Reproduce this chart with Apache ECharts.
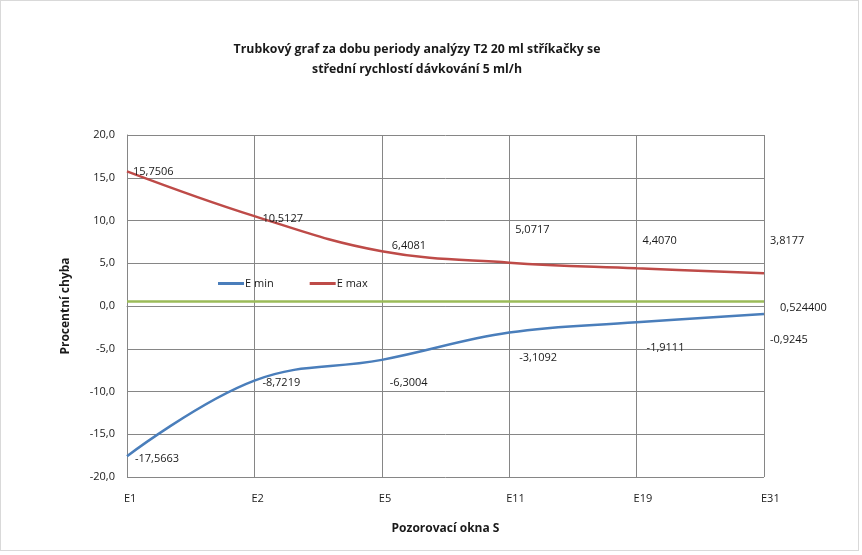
<!DOCTYPE html>
<html><head><meta charset="utf-8">
<script src="https://cdn.jsdelivr.net/npm/echarts@6/dist/echarts.min.js"></script>
<style>html,body{margin:0;padding:0;background:#fff}#c{position:absolute;left:0;top:0;width:862px;height:555px}#b{position:absolute;left:0;top:0;width:857px;height:549px;border:1px solid #d9d9d9;pointer-events:none}</style>
</head><body><div id="c"></div><div id="b"></div>
<script>
const categories = ['E1','E2','E5','E11','E19','E31'];
const eMin = [-17.5663, -8.7219, -6.3004, -3.1092, -1.9111, -0.9245];
const eMax = [15.7506, 10.5127, 6.4081, 5.0717, 4.4070, 3.8177];
const centerValue = 0.5244;
const yTicks = [-20, -15, -10, -5, 0, 5, 10, 15, 20];

const fmt = (v, d) => v.toFixed(d).replace('.', ',');
const minOffsets = [[4,3],[4,2],[4,23],[6,25],[6,26],[2,26]];
const maxOffsets = [[2,1],[4,3],[6,-5],[2,-33],[2,-27],[2,-32]];
const font = '"Open Sans", "Liberation Sans", sans-serif';
const lbl = {color:'#1a1a1a', fontSize:11, fontFamily:font, position:'right', align:'left', verticalAlign:'middle', distance:4};

const chart = echarts.init(document.getElementById('c'));
chart.setOption({
  animation:false,
  title:{text:'Trubkový graf za dobu periody analýzy T2 20 ml stříkačky se\nstřední rychlostí dávkování 5 ml/h', left:412, textAlign:'center', top:34,
    textStyle:{fontSize:12.3, fontWeight:'bold', fontFamily:font, color:'#1a1a1a', lineHeight:20}},
  legend:{left:213, top:273, itemWidth:26, itemHeight:3, itemGap:36, icon:'rect',
    textStyle:{fontSize:11, fontFamily:font, color:'#1a1a1a', padding:[0,0,0,-4]}, data:['E min','E max']},
  grid:{left:127, right:98, top:135, bottom:78},
  xAxis:{type:'category', data:categories, boundaryGap:false,
    name:'Pozorovací okna S', nameLocation:'middle', nameGap:46,
    nameTextStyle:{fontSize:12, fontWeight:'bold', fontFamily:font, color:'#1a1a1a'},
    axisLine:{lineStyle:{color:'#868686'}}, axisTick:{show:false},
    axisLabel:{fontSize:11, fontFamily:font, color:'#1a1a1a', align:'left', margin:16, padding:[0,0,0,-3]},
    splitLine:{show:true, lineStyle:{color:'#868686'}}},
  yAxis:{type:'value', min:yTicks[0], max:yTicks[yTicks.length-1], interval:5,
    name:'Procentní chyba', nameLocation:'middle', nameGap:55, nameRotate:90,
    nameTextStyle:{fontSize:12, fontWeight:'bold', fontFamily:font, color:'#1a1a1a'},
    axisLine:{show:true, lineStyle:{color:'#868686'}}, axisTick:{show:false},
    axisLabel:{fontSize:11, fontFamily:font, color:'#1a1a1a', margin:12, formatter:v=>fmt(v,1)},
    splitLine:{show:true, lineStyle:{color:'#868686'}}},
  series:[
    {name:'E min', type:'line', smooth:0.4, symbol:'circle', symbolSize:0.01, showSymbol:true, color:'#4A7EBB', lineStyle:{width:2.5, color:'#4A7EBB'},
      data:eMin.map((v,i)=>({value:v, label:{show:true, ...lbl, offset:minOffsets[i], formatter:fmt(v,4)}})),
      markLine:{silent:true, symbol:'none', data:[{yAxis:centerValue}],
        lineStyle:{color:'#9BBB59', width:2.5, type:'solid'},
        label:{show:true, position:'end', formatter:'{a|' + fmt(centerValue,6) + '}', distance:[16,0],
          rich:{a:{fontSize:11, fontFamily:font, color:'#1a1a1a', padding:[12,0,0,0]}}}}},
    {name:'E max', type:'line', smooth:0.4, symbol:'circle', symbolSize:0.01, showSymbol:true, color:'#BE4B48', lineStyle:{width:2.5, color:'#BE4B48'},
      data:eMax.map((v,i)=>({value:v, label:{show:true, ...lbl, offset:maxOffsets[i], formatter:fmt(v,4)}}))}
  ]
});
</script></body></html>
